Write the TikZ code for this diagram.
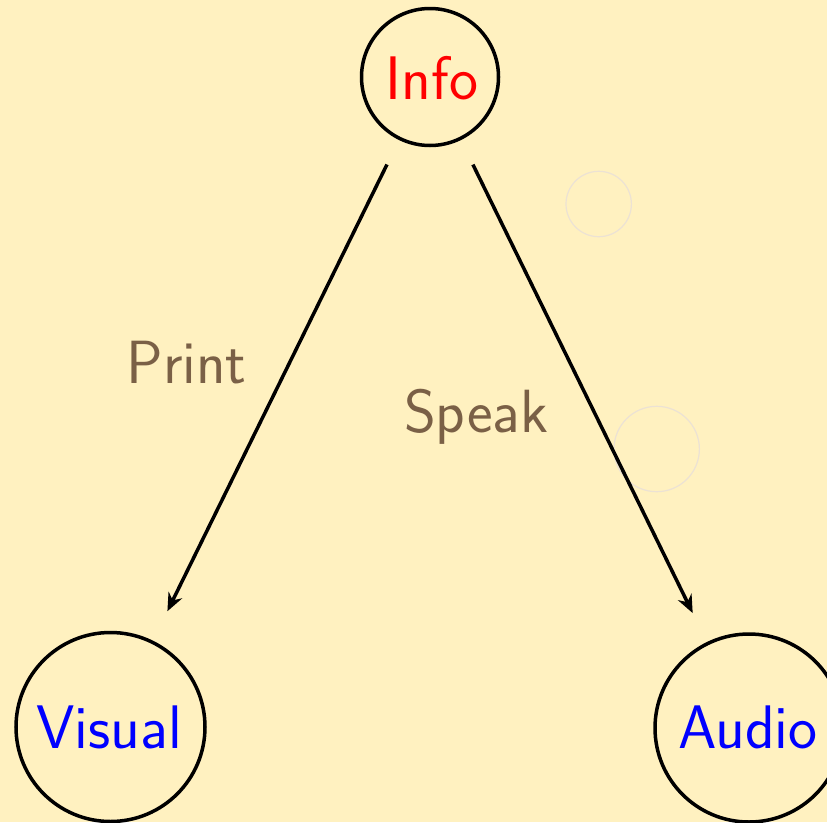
\documentclass[tikz,border=0pt]{standalone}
\usetikzlibrary{arrows.meta}
\definecolor{bgc}{RGB}{255,241,192}
\definecolor{labc}{RGB}{122,96,70}
\definecolor{faintc}{RGB}{236,226,212}
\tikzset{
  bignode/.style={circle, draw=black, line width=3.5pt, inner sep=0pt},
  nodetext/.style={font=\sffamily\fontsize{61.5}{61.5}\selectfont, anchor=base},
  conn/.style={line width=3.5pt, -{Stealth[length=18pt,width=15pt]}},
  lab/.style={text=labc, font=\sffamily\fontsize{61}{61}\selectfont, anchor=base},
  ghost/.style={draw=faintc, line width=1.2pt}
}
\begin{document}
\begin{tikzpicture}[x=1pt,y=-1pt]
\fill[bgc] (0,0) rectangle (827,822);
\useasboundingbox (0,0) rectangle (827,822);
\draw[ghost] (598.7,204) circle (32.7);
\draw[ghost] (656.7,449) circle (42.7);
\node[bignode, minimum size=137pt] (info) at (430,77) {};
\node[bignode, minimum size=189pt] (visual) at (110.5,727) {};
\node[bignode, minimum size=188pt] (audio) at (749,728) {};
\node[nodetext, text=red] (infot) at (432,99) {Info};
\node[nodetext, text=blue] (visualt) at (109,748) {Visual};
\node[nodetext, text=blue] (audiot) at (748,748) {Audio};
\draw[conn, shorten <=97.5pt, shorten >=129pt] (info.center) -- (visual.center);
\draw[conn, shorten <=97.5pt, shorten >=128pt] (info.center) -- (audio.center);
\node[lab] (print) at (186.5,383) {Print};
\node[lab] (speak) at (476,432) {Speak};
\end{tikzpicture}
\end{document}
